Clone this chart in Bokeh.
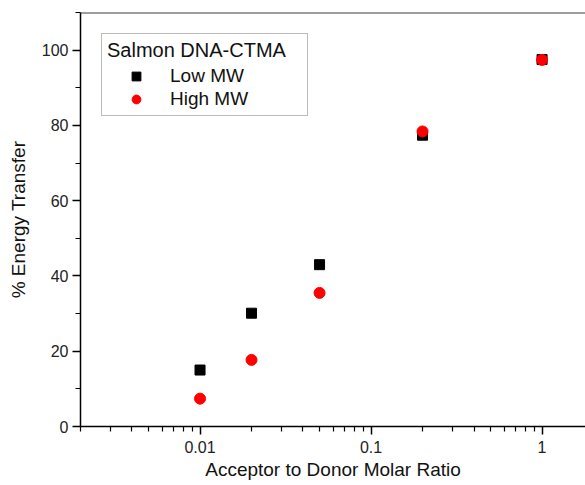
from bokeh.plotting import figure
from bokeh.models import (FixedTicker, SingleIntervalTicker, CustomJSTickFormatter,
                          Range1d, Span, Legend, LegendItem)
from bokeh.embed import file_html
from bokeh.resources import INLINE

# data
ratio = [0.01, 0.02, 0.05, 0.2, 1.0]
low_mw = [15.0, 30.1, 43.0, 77.4, 97.5]
high_mw = [7.4, 17.7, 35.5, 78.4, 97.4]
x_major = [0.01, 0.1, 1]
y_interval = 20

FONT = "Liberation Sans"

p = figure(width=585, height=485, x_axis_type="log", output_backend="svg",
           toolbar_location=None, x_range=Range1d(0.002, 1.795), y_range=Range1d(0, 110),
           min_border_left=80, min_border_right=0, min_border_top=12, min_border_bottom=59)
p.outline_line_color = None
p.xgrid.visible = False
p.ygrid.visible = False
p.background_fill_color = "white"

r1 = p.scatter(ratio, low_mw, marker="square", size=10, color="black")
r2 = p.scatter(ratio, high_mw, marker="circle", size=11, color="#ff0000")

minor = [m * 10 ** e for e in (-3, -2, -1, 0) for m in range(2, 10)]
p.xaxis.ticker = FixedTicker(ticks=x_major, minor_ticks=minor)
p.xaxis.formatter = CustomJSTickFormatter(code="return tick.toString();")
p.yaxis.ticker = SingleIntervalTicker(interval=y_interval, num_minor_ticks=2)

for ax in (p.xaxis[0], p.yaxis[0]):
    ax.axis_line_color = "black"
    ax.axis_line_width = 1.5
    ax.major_tick_line_color = "black"
    ax.minor_tick_line_color = "black"
    ax.major_tick_line_width = 1.5
    ax.minor_tick_line_width = 1.2
    ax.major_tick_in = 0
    ax.minor_tick_in = 0
    ax.major_tick_out = 8
    ax.minor_tick_out = 5
    ax.major_label_text_font = FONT
    ax.major_label_text_font_size = "16px"
    ax.major_label_text_color = "#222222"
    ax.axis_label_text_font = FONT
    ax.axis_label_text_font_size = "19px"
    ax.axis_label_text_font_style = "normal"
    ax.axis_label_text_color = "#111111"

p.xaxis.axis_label = "Acceptor to Donor Molar Ratio"
p.yaxis.axis_label = "% Energy Transfer"
p.xaxis.major_label_standoff = 6
p.xaxis.axis_label_standoff = 3
p.yaxis.major_label_standoff = 4
p.yaxis.axis_label_standoff = 10

top = Span(location=110, dimension="width", line_color="#3c3c3c", line_width=2)
p.add_layout(top)

legend = Legend(items=[LegendItem(label="Low MW", renderers=[r1]),
                       LegendItem(label="High MW", renderers=[r2])],
                title="Salmon DNA-CTMA", location="top_left")
legend.margin = 21
legend.padding = 5
legend.spacing = 1
legend.title_standoff = 3
legend.glyph_width = 58
legend.glyph_height = 22
legend.label_height = 22
legend.label_width = 132
legend.label_standoff = 5
legend.title_text_font = FONT
legend.title_text_font_size = "20px"
legend.title_text_font_style = "normal"
legend.title_text_color = "#111111"
legend.label_text_font = FONT
legend.label_text_font_size = "19px"
legend.label_text_color = "#111111"
legend.border_line_color = "#777777"
legend.border_line_width = 1
legend.background_fill_alpha = 1
p.add_layout(legend)

open("out.html", "w").write(file_html(p, INLINE))
